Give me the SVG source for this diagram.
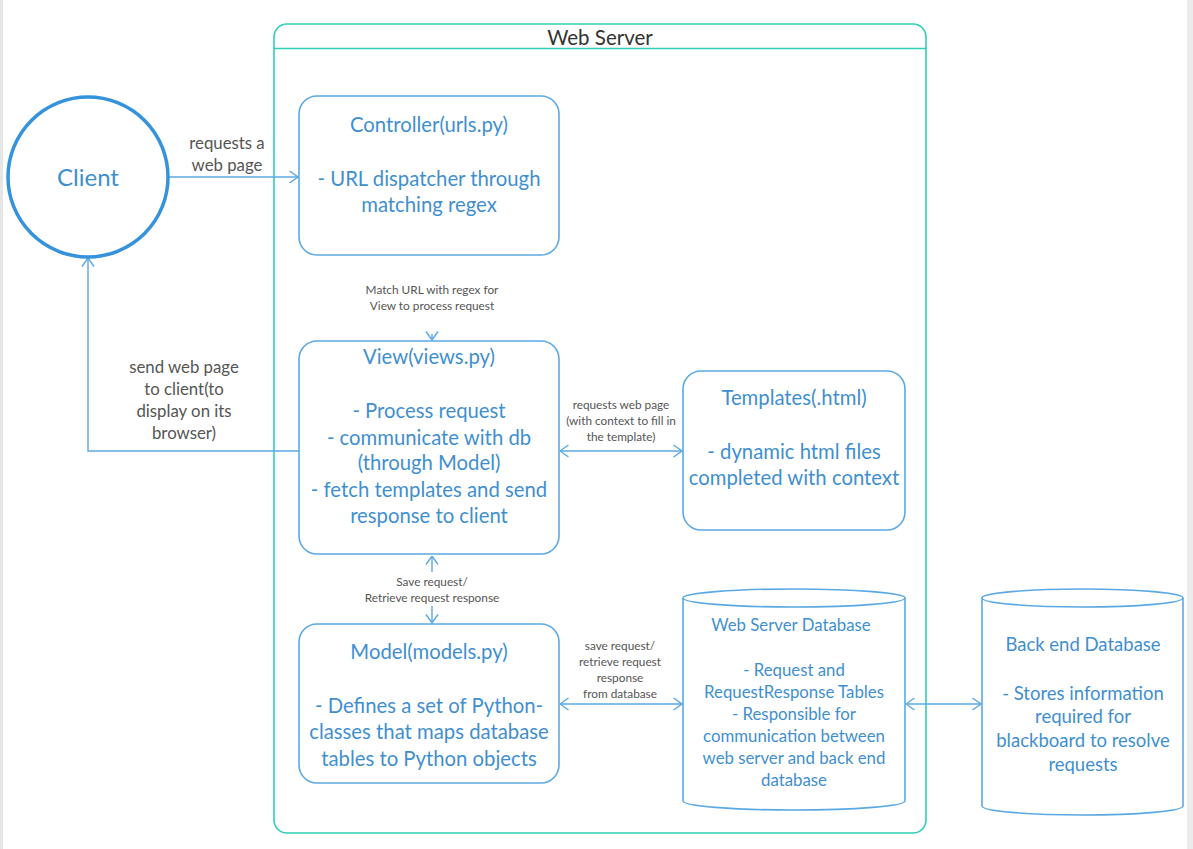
<svg xmlns="http://www.w3.org/2000/svg" width="1193" height="849" viewBox="0 0 1193 849">
<defs>
<style>
.box{fill:#fff;stroke:#5ba9e4;stroke-width:1.6}
.t{font-family:Lato,"Open Sans","Liberation Sans",sans-serif;fill:#3f8fd0;text-anchor:middle;dominant-baseline:central}
.big{font-size:20.3px}
.mid{font-size:18.5px}
.db{font-size:16.8px}
.lbl{font-family:Lato,"Open Sans","Liberation Sans",sans-serif;fill:#555;text-anchor:middle;dominant-baseline:central}
.l14{font-size:16.8px}
.l11{font-size:11.8px}
.con{fill:none;stroke:#5ba9e4;stroke-width:1.4}
</style>
<marker id="ah" viewBox="0 0 10 14" refX="9.5" refY="7" markerWidth="10" markerHeight="14" markerUnits="userSpaceOnUse" orient="auto-start-reverse">
<path d="M1,1 L9.5,7 L1,13" fill="none" stroke="#5ba9e4" stroke-width="1.4"/>
</marker>
</defs>
<rect x="0" y="0" width="1193" height="849" fill="#fff"/>
<rect x="0" y="0" width="3" height="849" fill="#e6e6e6"/>
<rect x="1187" y="0" width="6" height="849" fill="#ececec"/>

<g id="webserver">
<rect x="274" y="24" width="652" height="809" rx="13" fill="none" stroke="#2fd0b5" stroke-width="1.6"/>
<line x1="274" y1="48.5" x2="926" y2="48.5" stroke="#2fd0b5" stroke-width="1.6"/>
<text x="600" y="37" class="lbl" style="font-size:20.5px;fill:#333">Web Server</text>
</g>

<g id="connectors">
<line x1="168" y1="177" x2="298" y2="177" class="con" marker-end="url(#ah)"/>
<text class="lbl l14" x="227" y="142">requests a</text>
<text class="lbl l14" x="227" y="164">web page</text>

<line x1="432" y1="334" x2="432" y2="340" class="con" marker-end="url(#ah)"/>
<text class="lbl l11" x="432" y="289">Match URL with regex for</text>
<text class="lbl l11" x="432" y="305">View to process request</text>

<line x1="432" y1="556" x2="432" y2="572" class="con" marker-start="url(#ah)"/>
<line x1="432" y1="606" x2="432" y2="623" class="con" marker-end="url(#ah)"/>
<text class="lbl l11" x="432" y="581">Save request/</text>
<text class="lbl l11" x="432" y="597">Retrieve request response</text>

<line x1="560" y1="451" x2="682" y2="451" class="con" marker-start="url(#ah)" marker-end="url(#ah)"/>
<text class="lbl l11" x="621" y="404">requests web page</text>
<text class="lbl l11" x="621" y="420">(with context to fill in</text>
<text class="lbl l11" x="621" y="436">the template)</text>

<line x1="560" y1="704" x2="682" y2="704" class="con" marker-start="url(#ah)" marker-end="url(#ah)"/>
<text class="lbl l11" x="620" y="645">save request/</text>
<text class="lbl l11" x="620" y="661">retrieve request</text>
<text class="lbl l11" x="620" y="677">response</text>
<text class="lbl l11" x="620" y="693">from database</text>

<line x1="906" y1="704" x2="981" y2="704" class="con" marker-start="url(#ah)" marker-end="url(#ah)"/>

<polyline points="299,451 88,451 88,258" class="con" marker-end="url(#ah)"/>
<text class="lbl l14" x="184" y="366">send web page</text>
<text class="lbl l14" x="184" y="388">to client(to</text>
<text class="lbl l14" x="184" y="410">display on its</text>
<text class="lbl l14" x="184" y="432">browser)</text>
</g>

<g id="client">
<circle cx="88" cy="177" r="80" fill="#fff" stroke="#3592db" stroke-width="3.5"/>
<text class="t" x="88" y="176" style="font-size:24px">Client</text>
</g>

<g id="controller">
<rect class="box" x="299" y="96" width="260" height="159" rx="18"/>
<text class="t big" x="429" y="124">Controller(urls.py)</text>
<text class="t big" x="429" y="178">- URL dispatcher through</text>
<text class="t big" x="429" y="204">matching regex</text>
</g>

<g id="view">
<rect class="box" x="299" y="341" width="260" height="213" rx="18"/>
<text class="t big" x="429" y="356">View(views.py)</text>
<text class="t big" x="429" y="410">- Process request</text>
<text class="t big" x="429" y="437">- communicate with db</text>
<text class="t big" x="429" y="462">(through Model)</text>
<text class="t big" x="429" y="489">- fetch templates and send</text>
<text class="t big" x="429" y="515">response to client</text>
</g>

<g id="templates">
<rect class="box" x="683" y="371" width="222" height="159" rx="18"/>
<text class="t big" x="794" y="397">Templates(.html)</text>
<text class="t big" x="794" y="451">- dynamic html files</text>
<text class="t big" x="794" y="477">completed with context</text>
</g>

<g id="model">
<rect class="box" x="299" y="624" width="260" height="159" rx="18"/>
<text class="t big" x="429" y="651">Model(models.py)</text>
<text class="t big" x="429" y="705">- Defines a set of Python-</text>
<text class="t big" x="429" y="731">classes that maps database</text>
<text class="t big" x="429" y="758">tables to Python objects</text>
</g>

<g id="webserverdb">
<path class="box" d="M683,598 a111,9 0 0,1 222,0 v203 a111,9 0 0,1 -222,0 z"/>
<path class="box" style="fill:none" d="M683,598 a111,9 0 0,0 222,0"/>
<text class="t db" x="791" y="624">Web Server Database</text>
<text class="t db" x="794" y="669">- Request and</text>
<text class="t db" x="794" y="691">RequestResponse Tables</text>
<text class="t db" x="794" y="713">- Responsible for</text>
<text class="t db" x="794" y="735">communication between</text>
<text class="t db" x="794" y="757">web server and back end</text>
<text class="t db" x="794" y="779">database</text>
</g>

<g id="backenddb">
<path class="box" d="M982,598 a100.5,9 0 0,1 201,0 v208 a100.5,9 0 0,1 -201,0 z"/>
<path class="box" style="fill:none" d="M982,598 a100.5,9 0 0,0 201,0"/>
<text class="t mid" x="1083" y="644">Back end Database</text>
<text class="t mid" x="1083" y="693">- Stores information</text>
<text class="t mid" x="1083" y="716">required for</text>
<text class="t mid" x="1083" y="740">blackboard to resolve</text>
<text class="t mid" x="1083" y="764">requests</text>
</g>
</svg>
